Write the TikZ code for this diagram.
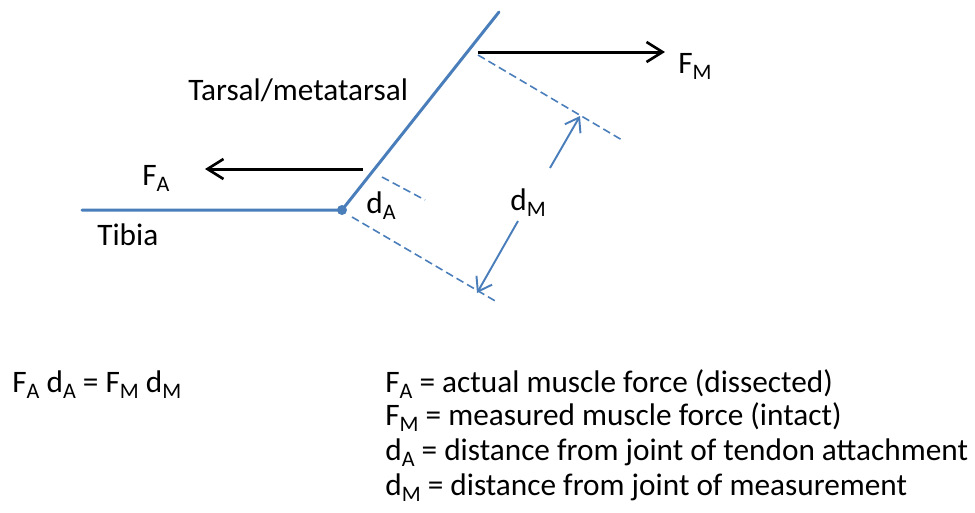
\documentclass[tikz,border=0pt]{standalone}
\usepackage{fontspec}
\setmainfont{Carlito}
\usetikzlibrary{positioning, arrows.meta}
\definecolor{bonblue}{RGB}{74, 126, 187}
\newcommand{\sbs}[1]{\raisebox{-3.8pt}{\fontsize{12.6}{13}\selectfont #1}}

\begin{document}
\begin{tikzpicture}[
    x=0.02cm, y=-0.02cm,
    bone/.style={draw=bonblue, line width=1.7pt, line cap=round},
    force/.style={-{Straight Barb[length=3.2mm, width=4mm, line width=1.5pt]}, line width=1.7pt, black},
    guide/.style={draw=bonblue, line width=0.9pt, dash pattern=on 4.5pt off 2.4pt},
    lever/.style={-{Straight Barb[length=2.6mm, width=3.6mm, line width=1.1pt]}, line width=1.1pt, color=bonblue},
    lbl/.style={inner sep=0pt, anchor=base west, font=\fontsize{17.8}{21.7}\selectfont}
  ]
  \useasboundingbox (0,0) rectangle (975,512);

  % Bones
  \coordinate (tibend) at (82,210);
  \coordinate (joint) at (342,210);
  \coordinate (tarsend) at (499,12);
  \draw[bone] (tibend) -- (joint) -- (tarsend);
  \fill[bonblue] (joint) circle (0.1cm);

  % Forces
  \coordinate (fmstart) at (478,52);
  \coordinate (fmtip) at (665,52);
  \coordinate (fastart) at (363,169);
  \coordinate (fatip) at (205,169);
  \draw[force] (fmstart) -- (fmtip);
  \draw[force] (fastart) -- (fatip);

  % Lines of action
  \coordinate (da1) at (382,177);
  \coordinate (da2) at (425,200);
  \coordinate (jd1) at (352,217);
  \coordinate (jd2) at (497,302);
  \coordinate (md1) at (478,55);
  \coordinate (md2) at (622,140);
  \draw[guide] (da1) -- (da2);
  \draw[guide] (jd1) -- (jd2);
  \draw[guide] (md1) -- (md2);

  % Moment arm
  \coordinate (dmup1) at (550,168);
  \coordinate (dmup2) at (580,116);
  \coordinate (dmlo1) at (518,221);
  \coordinate (dmlo2) at (477,293);
  \draw[lever] (dmup1) -- (dmup2);
  \draw[lever] (dmlo1) -- (dmlo2);

  % Labels
  \node[lbl] (tarsal) at (188,100) {Tarsal/metatarsal};
  \node[lbl] (tibia) at (97,245) {Tibia};
  \node[lbl] (fa) at (142,185) {F\sbs{A}};
  \node[lbl] (fm) at (678,73) {F\sbs{M}};
  \node[lbl] (da) at (366,213) {d\sbs{A}};
  \node[lbl] (dm) at (510,210) {d\sbs{M}};

  % Equation and key
  \node[lbl] (eqn) at (12,392) {F\sbs{A} d\sbs{A} = F\sbs{M} d\sbs{M}};
  \node[lbl] (key1) at (385,392) {F\sbs{A} = actual muscle force (dissected)};
  \node[lbl] (key2) at (385,425) {F\sbs{M} = measured muscle force (intact)};
  \node[lbl] (key3) at (385,460) {d\sbs{A} = distance from joint of tendon attachment};
  \node[lbl] (key4) at (385,495) {d\sbs{M} = distance from joint of measurement};
\end{tikzpicture}
\end{document}
